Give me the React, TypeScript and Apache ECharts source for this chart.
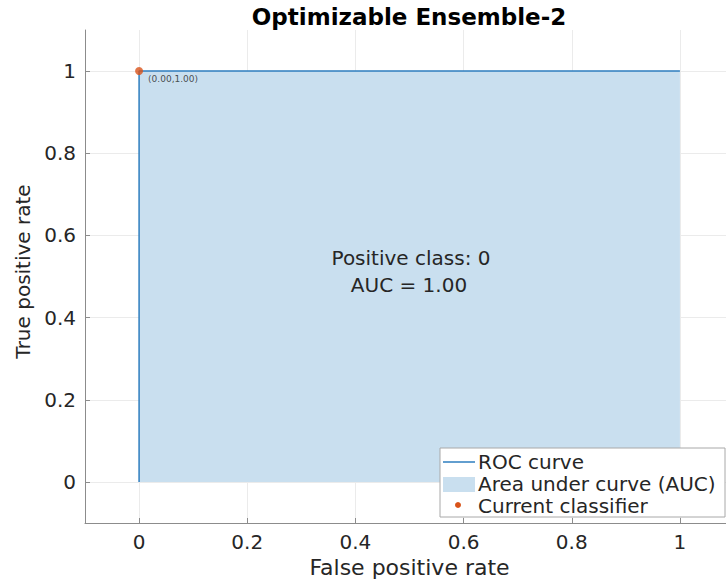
import React, { useEffect, useRef } from "react";
import * as echarts from "echarts";

const titleText = "Optimizable Ensemble-2";
const xName = "False positive rate";
const yName = "True positive rate";
const fpr = [0, 0, 1];
const tpr = [0, 1, 1];
const currentFpr = [0];
const currentTpr = [1];
const positiveClass = "0";
const legendNames = ["ROC curve", "Area under curve (AUC)", "Current classifier"];

const FONT = "'DejaVu Sans', sans-serif";
const ROC_COLOR = "#2e7ebf";
const AREA_COLOR = "#c9dfef";
const POINT_COLOR = "#d95319";
const TEXT_COLOR = "#262626";
const AXIS_COLOR = "#8c8c8c";

function trapz(x: number[], y: number[]): number {
  let s = 0;
  for (let i = 1; i < x.length; i++) s += ((x[i] - x[i - 1]) * (y[i] + y[i - 1])) / 2;
  return s;
}

export default function App() {
  const ref = useRef<HTMLDivElement>(null);
  useEffect(() => {
    if (!ref.current) return;
    const chart = echarts.init(ref.current, null, { renderer: "svg" });
    const rocData = fpr.map((v, i) => [v, tpr[i]]);
    const pointData = currentFpr.map((v, i) => [v, currentTpr[i]]);
    const aucVal = trapz(fpr, tpr);
    const fmt = (v: number) => {
      const n = Number(v.toFixed(2));
      return n === 0 ? "0" : String(n);
    };
    const axisCommon = {
      type: "value" as const,
      min: -0.1,
      max: 1.1,
      nameLocation: "middle" as const,
      axisLine: { show: true, onZero: false, lineStyle: { color: AXIS_COLOR, width: 1 } },
      axisTick: { show: true, inside: true, length: 5, lineStyle: { color: AXIS_COLOR } },
      splitLine: { show: true, showMinLine: false, showMaxLine: false, lineStyle: { color: "#ebebeb", width: 1 } },
      axisLabel: {
        showMinLabel: false,
        showMaxLabel: false,
        color: TEXT_COLOR,
        fontFamily: FONT,
        fontSize: 20,
        margin: 9,
        formatter: fmt,
      },
    };
    chart.setOption({
      animation: false,
      backgroundColor: "#ffffff",
      title: {
        text: titleText,
        left: 409,
        top: 5,
        padding: 0,
        textAlign: "center",
        textStyle: { fontFamily: FONT, fontSize: 23, fontWeight: "bold", color: "#000000" },
      },
      grid: { left: 85, right: -8, top: 30, bottom: 61, outerBoundsMode: "none", containLabel: false },
      xAxis: {
        ...axisCommon,
        name: xName,
        nameGap: 31,
        nameTextStyle: { fontFamily: FONT, fontSize: 22, color: TEXT_COLOR },
      },
      yAxis: {
        ...axisCommon,
        name: yName,
        nameGap: 52,
        nameTextStyle: { fontFamily: FONT, fontSize: 20, color: TEXT_COLOR, padding: [0, 0, 0, 10] },
      },
      series: [
        {
          name: legendNames[1],
          type: "line",
          data: rocData,
          symbol: "none",
          silent: true,
          lineStyle: { width: 0, opacity: 0 },
          areaStyle: { color: AREA_COLOR, opacity: 1, origin: "auto" },
          z: 1,
        },
        {
          name: legendNames[0],
          type: "line",
          data: rocData,
          symbol: "none",
          silent: true,
          lineStyle: { color: ROC_COLOR, width: 1.5 },
          z: 2,
        },
        {
          name: legendNames[2],
          type: "scatter",
          data: pointData,
          symbol: "circle",
          symbolSize: 8,
          itemStyle: { color: POINT_COLOR },
          silent: true,
          z: 3,
          label: {
            show: true,
            position: "right",
            distance: 5,
            offset: [0, 8],
            fontFamily: FONT,
            fontSize: 9,
            color: TEXT_COLOR,
            formatter: (p: any) => `(${p.value[0].toFixed(2)},${p.value[1].toFixed(2)})`,
          },
        },
      ],
      graphic: [
        {
          type: "text",
          x: 411,
          y: 258,
          style: {
            text: `Positive class: ${positiveClass}`,
            fontFamily: FONT,
            fontSize: 20,
            fill: TEXT_COLOR,
            align: "center",
            verticalAlign: "middle",
          },
          z: 10,
        },
        {
          type: "text",
          x: 409,
          y: 285,
          style: {
            text: `AUC = ${aucVal.toFixed(2)}`,
            fontFamily: FONT,
            fontSize: 20,
            fill: TEXT_COLOR,
            align: "center",
            verticalAlign: "middle",
          },
          z: 10,
        },
        {
          type: "rect",
          shape: { x: 440, y: 448, width: 285, height: 69 },
          style: { fill: "#ffffff", stroke: "#a8a8a8", lineWidth: 1 },
          z: 10,
        },
        {
          type: "line",
          shape: { x1: 443, y1: 462, x2: 475, y2: 462 },
          style: { stroke: ROC_COLOR, lineWidth: 1.5 },
          z: 11,
        },
        {
          type: "rect",
          shape: { x: 443, y: 477, width: 32, height: 15 },
          style: { fill: AREA_COLOR },
          z: 11,
        },
        {
          type: "circle",
          shape: { cx: 458, cy: 505, r: 3 },
          style: { fill: POINT_COLOR },
          z: 11,
        },
        ...legendNames.map((n, i) => ({
          type: "text",
          x: 478,
          y: [462, 484, 506][i],
          style: {
            text: n,
            fontFamily: FONT,
            fontSize: 20,
            fill: TEXT_COLOR,
            align: "left",
            verticalAlign: "middle",
          },
          z: 11,
        })),
      ],
    });
    return () => chart.dispose();
  }, []);
  return (
    <div
      ref={ref}
      style={{ position: "absolute", left: 0, top: 0, width: 726, height: 584 }}
    />
  );
}
